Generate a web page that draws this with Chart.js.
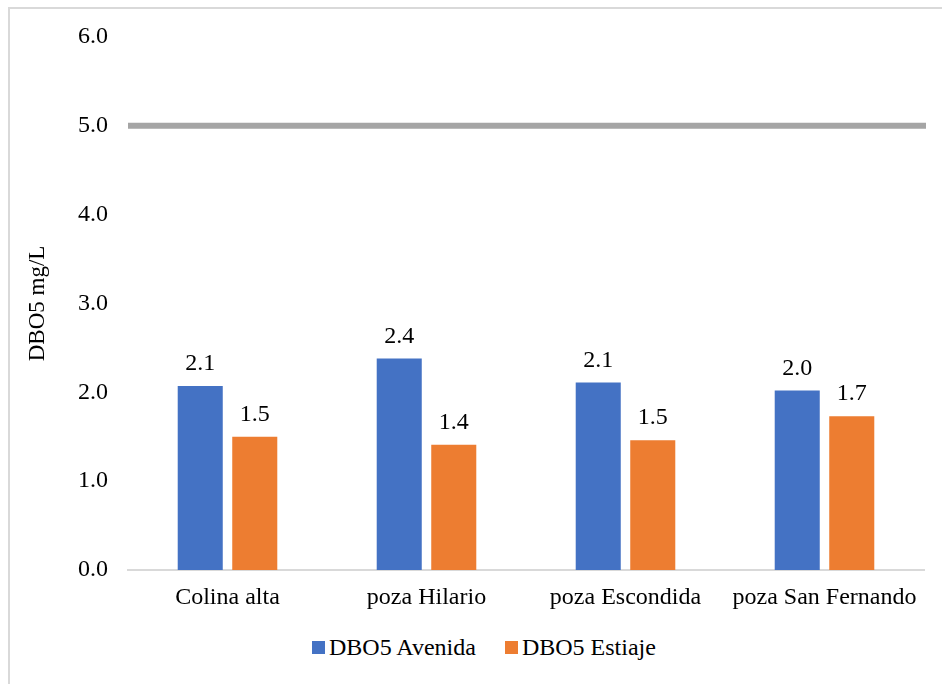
<!DOCTYPE html>
<html>
<head>
<meta charset="utf-8">
<script src="https://cdn.jsdelivr.net/npm/chart.js@4.4.1/dist/chart.umd.min.js"></script>
<style>
  html, body { margin: 0; padding: 0; background: #fff; }
  #wrap { position: relative; width: 942px; height: 684px; overflow: hidden; }
  #frame {
    position: absolute; left: 8px; top: 7px; width: 960px; height: 700px;
    border-left: 2px solid #D9D9D9; border-top: 2px solid #D9D9D9;
  }
  #chart { position: absolute; left: 0; top: 0; }
  #legend {
    position: absolute; left: 312px; top: 634px;
    font: 24px "Liberation Serif", "Times New Roman", serif; color: #000;
    display: flex; align-items: center; white-space: nowrap;
  }
  #legend .sw { display: inline-block; width: 13px; height: 13px; margin-right: 4px; }
  #legend .item { display: flex; align-items: center; margin-right: 29px; }
</style>
</head>
<body>
<div id="wrap">
  <div id="frame"></div>
  <canvas id="chart" width="942" height="620"></canvas>
  <div id="legend"></div>
</div>
<script>
const sites = ["Colina alta", "poza Hilario", "poza Escondida", "poza San Fernando"]
const avenida = [2.07, 2.38, 2.11, 2.02]
const estiaje = [1.50, 1.41, 1.46, 1.73]
const yTicks = [0, 1, 2, 3, 4, 5, 6]
const limit = 5.0

const FONT = "'Liberation Serif', 'Times New Roman', serif"
const BLUE = "#4472C4"
const ORANGE = "#ED7D31"

// thick grey reference line at the limit value
const limitLine = {
  id: "limitLine",
  beforeDatasetsDraw(chart) {
    const { ctx, chartArea, scales } = chart
    const y = scales.y.getPixelForValue(limit)
    ctx.save()
    ctx.strokeStyle = "#A5A5A5"
    ctx.lineWidth = 6
    ctx.beginPath()
    ctx.moveTo(chartArea.left, y)
    ctx.lineTo(chartArea.right + 2, y)
    ctx.stroke()
    ctx.restore()
  }
}

// value above each bar
const barLabels = {
  id: "barLabels",
  afterDatasetsDraw(chart) {
    const { ctx } = chart
    ctx.save()
    ctx.font = "24px " + FONT
    ctx.fillStyle = "#000"
    ctx.textAlign = "center"
    ctx.textBaseline = "alphabetic"
    chart.data.datasets.forEach((ds, i) => {
      chart.getDatasetMeta(i).data.forEach((bar, j) => {
        ctx.fillText(ds.data[j].toFixed(1), bar.x, bar.y - 16)
      })
    })
    ctx.restore()
  }
}

const ctx = document.getElementById("chart").getContext("2d")

const chart = new Chart(ctx, {
  type: "bar",
  data: {
    labels: sites,
    datasets: [
      { label: "DBO5 Avenida", data: avenida, backgroundColor: BLUE },
      { label: "DBO5 Estiaje", data: estiaje, backgroundColor: ORANGE }
    ]
  },
  options: {
    responsive: false,
    animation: false,
    categoryPercentage: 0.548,
    barPercentage: 0.826,
    layout: { padding: { top: 37, right: 18, bottom: 0, left: 0 } },
    plugins: {
      legend: { display: false },
      tooltip: { enabled: false }
    },
    scales: {
      x: {
        grid: { display: false, drawTicks: false },
        border: { color: "#D9D9D9", width: 2 },
        ticks: { color: "#000", font: { family: FONT, size: 24 }, padding: 13, maxRotation: 0 },
        afterFit(scale) { scale.height = 50 }
      },
      y: {
        min: 0,
        max: 6,
        afterBuildTicks(scale) { scale.ticks = yTicks.map(v => ({ value: v })) },
        grid: { display: false, drawTicks: false },
        border: { display: false },
        ticks: {
          color: "#000",
          font: { family: FONT, size: 24 },
          padding: 20,
          callback: v => v.toFixed(1)
        },
        title: {
          display: true,
          text: "DBO5 mg/L",
          color: "#000",
          font: { family: FONT, size: 23 },
          padding: { top: 24, bottom: 0 }
        },
        afterFit(scale) { scale.width = 128 }
      }
    }
  },
  plugins: [limitLine, barLabels]
})

// legend drawn from the datasets
const legendEl = document.getElementById("legend")
chart.data.datasets.forEach(ds => {
  const item = document.createElement("span")
  item.className = "item"
  const sw = document.createElement("span")
  sw.className = "sw"
  sw.style.background = ds.backgroundColor
  item.appendChild(sw)
  item.appendChild(document.createTextNode(ds.label))
  legendEl.appendChild(item)
})
</script>
</body>
</html>
